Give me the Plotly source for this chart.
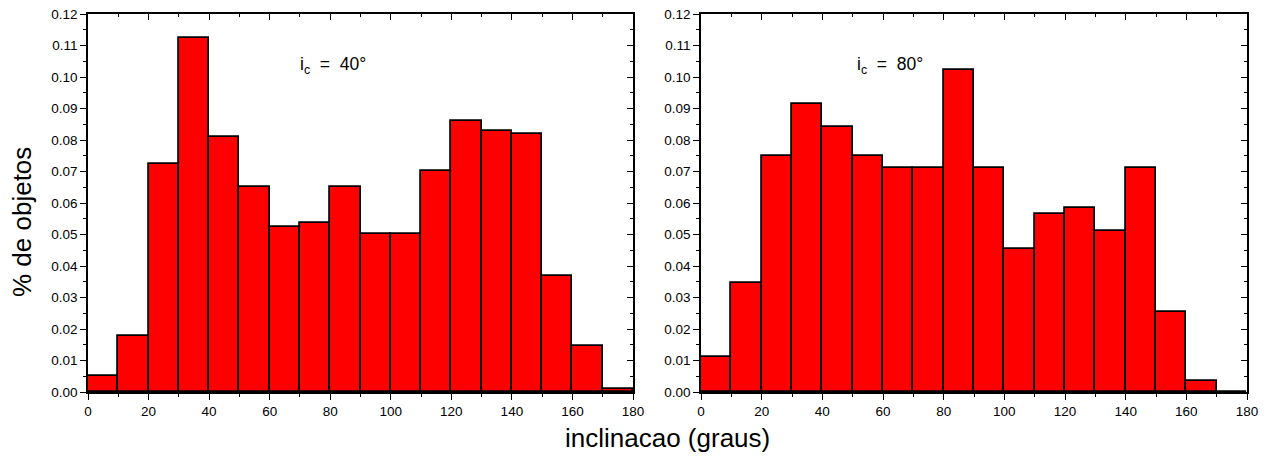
import plotly.graph_objects as go

bin_edges = list(range(0, 190, 10))
vals_40 = [0.0052, 0.0178, 0.0724, 0.1123, 0.0808, 0.0650, 0.0523, 0.0535, 0.0650,
           0.0503, 0.0503, 0.0702, 0.0860, 0.0830, 0.0818, 0.0367, 0.0147, 0.0010]
vals_80 = [0.0110, 0.0347, 0.0750, 0.0914, 0.0840, 0.0750, 0.0712, 0.0712, 0.1023,
           0.0712, 0.0455, 0.0565, 0.0585, 0.0510, 0.0712, 0.0255, 0.0036, 0.0]
x_ticks = list(range(0, 181, 20))
y_ticks = [round(0.01 * i, 2) for i in range(13)]
labels = ["i<sub>c</sub>&nbsp; = &nbsp;40°", "i<sub>c</sub>&nbsp; = &nbsp;80°"]

centers = [(a + b) / 2 for a, b in zip(bin_edges[:-1], bin_edges[1:])]
widths = [b - a for a, b in zip(bin_edges[:-1], bin_edges[1:])]

FONT = "Liberation Sans, Arial, sans-serif"
fig = go.Figure()

doms_x = [[88 / 1269, 633 / 1269], [701 / 1269, 1247 / 1269]]
dom_y = [1 - 392 / 459, 1 - 14 / 459]

for i, vals in enumerate([vals_40, vals_80]):
    xa = "x" if i == 0 else "x2"
    ya = "y" if i == 0 else "y2"
    fig.add_trace(go.Bar(x=centers, y=vals, width=widths, xaxis=xa, yaxis=ya,
                         marker=dict(color="#ff0000", line=dict(color="black", width=1.8)),
                         showlegend=False))

common_x = dict(range=[0, 180], tickvals=x_ticks, showline=True, linecolor="black",
                linewidth=1.6, ticks="outside", ticklen=6, tickwidth=1.4, tickcolor="black",
                showgrid=False, zeroline=False, automargin=False,
                tickfont=dict(family=FONT, size=13.5, color="black"),
                minor=dict(dtick=10, ticks="outside", ticklen=3, tickwidth=1.2, tickcolor="black"))
common_y = dict(range=[0, 0.12], tickvals=y_ticks, tickformat=".2f", showline=True,
                linecolor="black", linewidth=1.6, ticks="outside", ticklen=6, tickwidth=1.4,
                tickcolor="black", showgrid=False, zeroline=False, automargin=False,
                tickfont=dict(family=FONT, size=13.5, color="black"),
                minor=dict(dtick=0.005, ticks="outside", ticklen=3, tickwidth=1.2, tickcolor="black"))

fig.update_layout(
    xaxis=dict(domain=doms_x[0], anchor="y", **common_x),
    yaxis=dict(domain=dom_y, anchor="x", **common_y),
    xaxis2=dict(domain=doms_x[1], anchor="y2", **common_x),
    yaxis2=dict(domain=dom_y, anchor="x2", **common_y),
)

mirror_x = dict(common_x)
mirror_x.update(ticks="inside", showticklabels=False,
                minor=dict(dtick=10, ticks="inside", ticklen=3, tickwidth=1.2, tickcolor="black"))
mirror_y = dict(common_y)
mirror_y.update(ticks="inside", showticklabels=False,
                minor=dict(dtick=0.005, ticks="inside", ticklen=3, tickwidth=1.2, tickcolor="black"))

fig.update_layout(
    xaxis3=dict(overlaying="x", side="top", anchor="y", **mirror_x),
    yaxis3=dict(overlaying="y", side="right", anchor="x", **mirror_y),
    xaxis4=dict(overlaying="x2", side="top", anchor="y2", **mirror_x),
    yaxis4=dict(overlaying="y2", side="right", anchor="x2", **mirror_y),
)
for xa, ya in [("x3", "y3"), ("x4", "y4")]:
    fig.add_trace(go.Scatter(x=[None], y=[None], xaxis=xa, yaxis=ya, showlegend=False,
                             hoverinfo="skip"))

fig.add_annotation(x=69.4, y=0.1035, xref="x", yref="y", text=labels[0], showarrow=False,
                   xanchor="left", font=dict(family=FONT, size=17.5, color="black"))
fig.add_annotation(x=50.8, y=0.1035, xref="x2", yref="y2", text=labels[1], showarrow=False,
                   xanchor="left", font=dict(family=FONT, size=17.5, color="black"))

fig.add_annotation(x=22 / 1269, y=1 - 222 / 459, xref="paper", yref="paper",
                   xanchor="center", yanchor="middle",
                   text="% de objetos", textangle=-90, showarrow=False,
                   font=dict(family=FONT, size=26, color="black"))
fig.add_annotation(x=667 / 1269, y=1 - 438 / 459, xref="paper", yref="paper",
                   xanchor="center", yanchor="middle",
                   text="inclinacao (graus)", showarrow=False,
                   font=dict(family=FONT, size=26, color="black"))

fig.update_layout(width=1269, height=459, margin=dict(l=0, r=0, t=0, b=0),
                  paper_bgcolor="white", plot_bgcolor="white", bargap=0)

fig.write_html("out.html")
